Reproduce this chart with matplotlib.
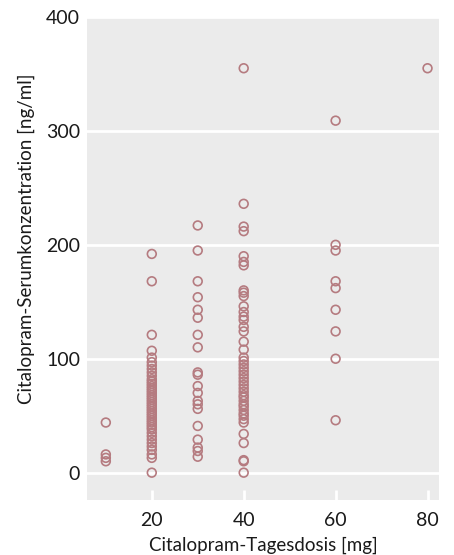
import matplotlib.pyplot as plt
import numpy as np

# dose groups (mg) and measured serum concentrations (ng/ml)
dose_10 = [44, 16, 13, 10]
dose_20 = [192, 168, 121, 107, 101, 97, 94, 91, 88, 85, 82, 80, 78, 76, 74, 72,
           70, 68, 66, 64, 62, 60, 58, 56, 54, 52, 50, 48, 46, 44, 42, 40, 38,
           35, 32, 29, 26, 23, 20, 16, 13, 0]
dose_30 = [217, 195, 168, 154, 143, 136, 121, 110, 88, 86, 76, 70, 63, 60, 56,
           41, 29, 22, 19, 14]
dose_40 = [355, 236, 216, 212, 190, 185, 182, 160, 158, 155, 146, 141, 137, 134,
           128, 124, 115, 108, 101, 98, 95, 92, 89, 86, 83, 80, 77, 74, 71, 68,
           66, 63, 60, 58, 55, 52, 50, 47, 44, 34, 26, 11, 10, 0]
dose_60 = [309, 200, 195, 168, 162, 143, 124, 100, 46]
dose_80 = [355]

groups = {10: dose_10, 20: dose_20, 30: dose_30, 40: dose_40, 60: dose_60, 80: dose_80}

plt.rcParams['font.family'] = ['Lato', 'DejaVu Sans']

fig, ax = plt.subplots(figsize=(4.54, 5.55), dpi=100)
fig.subplots_adjust(left=0.1916, right=0.967, top=0.9694, bottom=0.0991)
ax.set_facecolor('#ebebeb')

for dose, values in groups.items():
    x = np.full(len(values), dose)
    ax.scatter(x, values, s=40, facecolors='none', edgecolors='#b57b80',
               linewidths=1.2, zorder=3)

ax.set_xlim(5.9, 82.5)
ax.set_ylim(-24, 400)
ax.set_xticks([20, 40, 60, 80])
ax.set_yticks([0, 100, 200, 300, 400])
ax.grid(axis='y', color='white', linewidth=2)
ax.set_axisbelow(True)
for s in ax.spines.values():
    s.set_visible(False)

ax.tick_params(axis='x', direction='in', color='white', width=2, length=7,
               pad=9, labelsize=14, labelcolor='#1a1a1a')
ax.tick_params(axis='y', length=0, pad=5, labelsize=14, labelcolor='#1a1a1a')

ax.set_xlabel('Citalopram-Tagesdosis [mg]', fontsize=13.5, labelpad=5,
              color='#1a1a1a')
ax.set_ylabel('Citalopram-Serumkonzentration [ng/ml]', fontsize=13.5,
              color='#1a1a1a')
ax.yaxis.set_label_coords(-0.148, 0.54)

fig.savefig('out.png', dpi=100)
